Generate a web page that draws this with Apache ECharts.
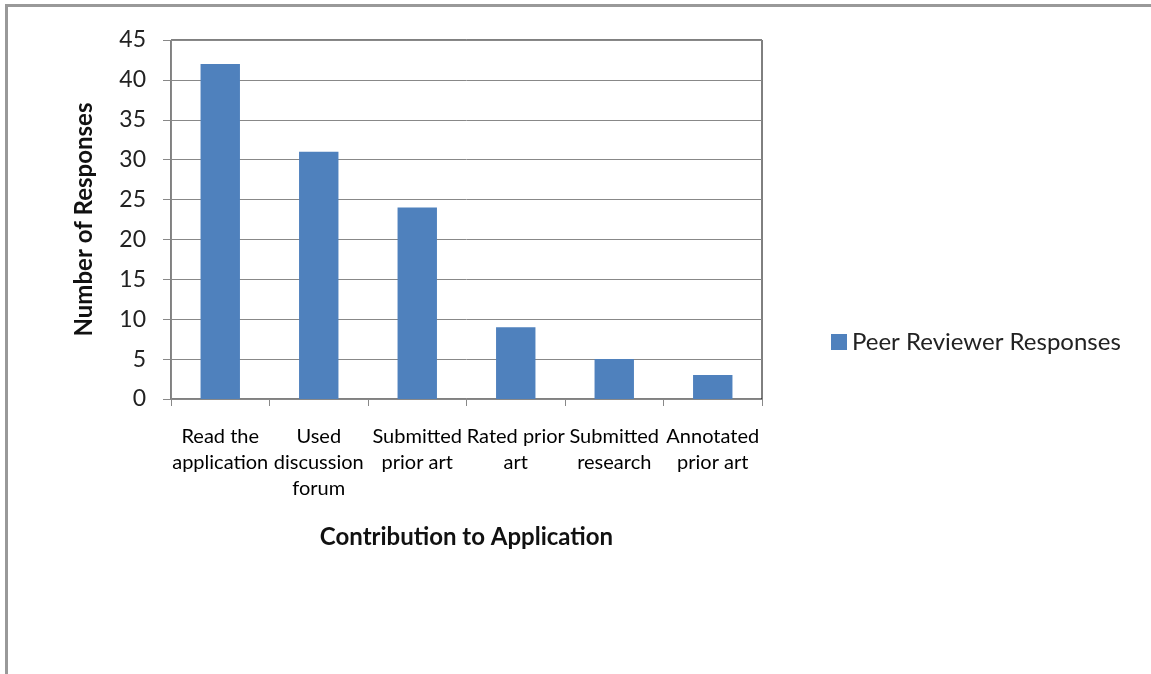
<!DOCTYPE html>
<html>
<head>
<meta charset="utf-8">
<script src="https://cdn.jsdelivr.net/npm/echarts@6/dist/echarts.min.js"></script>
<style>
  html, body { margin: 0; padding: 0; background: #fff; }
  #frame { position: absolute; left: 5px; top: 4px; width: 1160px; height: 690px;
           border-left: 3px solid #999; border-top: 3px solid #999; }
  #chart { position: absolute; left: 0; top: 0; width: 1151px; height: 674px; }
</style>
</head>
<body>
<div id="frame"></div>
<div id="chart"></div>
<script>
// 数据
var categories = ["Read the\napplication", "Used\ndiscussion\nforum", "Submitted\nprior art",
                  "Rated prior\nart", "Submitted\nresearch", "Annotated\nprior art"];
var responses = [42, 31, 24, 9, 5, 3];
var seriesName = "Peer Reviewer Responses";

var fontFam = "Lato, 'Open Sans', sans-serif";
var chart = echarts.init(document.getElementById('chart'));

chart.setOption({
    animation: false,
    textStyle: { fontFamily: fontFam },
    legend: {
        data: [seriesName],
        left: 826, top: 325,
        itemWidth: 16, itemHeight: 16, itemGap: 7,
        icon: 'rect',
        textStyle: { fontSize: 24, color: '#222', fontFamily: fontFam }
    },
    grid: { left: 171, top: 40, width: 591, height: 359, containLabel: false,
            show: true, borderColor: '#000', borderWidth: 1 },
    xAxis: {
        type: 'category',
        data: categories,
        name: 'Contribution to Application',
        nameLocation: 'middle',
        nameGap: 126,
        nameTextStyle: { fontSize: 24, fontWeight: 'bold', color: '#111' },
        axisLine: { lineStyle: { color: '#888' } },
        axisTick: { show: true, length: 7, lineStyle: { color: '#888' } },
        axisLabel: { fontSize: 20, color: '#000', lineHeight: 26, margin: 25, interval: 0 }
    },
    yAxis: {
        type: 'value',
        min: 0, max: 45, interval: 5,
        name: 'Number of Responses',
        nameLocation: 'middle',
        nameGap: 75,
        nameTextStyle: { fontSize: 24, fontWeight: 'bold', color: '#111' },
        axisLine: { show: true, lineStyle: { color: '#888' } },
        axisTick: { show: true, length: 8, lineStyle: { color: '#888' } },
        axisLabel: { fontSize: 23, color: '#222', margin: 25 },
        splitLine: { lineStyle: { color: '#888' } }
    },
    series: [{
        name: seriesName,
        type: 'bar',
        data: responses,
        barWidth: '40%',
        itemStyle: { color: '#4f81bd' }
    }]
});
</script>
</body>
</html>
